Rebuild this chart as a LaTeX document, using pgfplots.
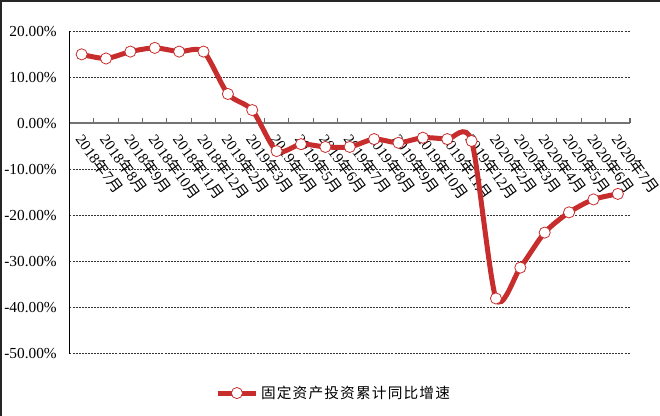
\documentclass[border=0pt]{standalone}
\usepackage{fontspec}
\setmainfont{Liberation Serif}
\newfontfamily\cjk{Noto Sans CJK SC}
\newfontfamily\cjkls[LetterSpace=8]{Noto Sans CJK SC}
\usepackage{pgfplots}
\pgfplotsset{compat=1.18}
\definecolor{lred}{RGB}{200,45,45}
\newcommand{\ym}[2]{#1{\cjk 年}#2{\cjk 月}}
\begin{document}
\begin{tikzpicture}
\useasboundingbox (0,0) rectangle (495pt,312pt);
\draw[line width=1.5pt, black!85] (0.75pt,0) -- (0.75pt,311.25pt) -- (495pt,311.25pt);
\begin{axis}[
  at={(52.1pt,46.7pt)}, anchor=south west,
  scale only axis, width=420.4pt, height=241.8pt,
  xmin=-0.5, xmax=22.5, ymin=-50, ymax=20,
  axis x line*=middle, axis y line*=left,
  x axis line style={draw=black!55, line width=1.5pt},
  y axis line style={draw=black, line width=0.8pt},
  xtick={0,...,22},
  xticklabels={\ym{2018}{7},\ym{2018}{8},\ym{2018}{9},\ym{2018}{10},\ym{2018}{11},\ym{2018}{12},
    \ym{2019}{2},\ym{2019}{3},\ym{2019}{4},\ym{2019}{5},\ym{2019}{6},\ym{2019}{7},\ym{2019}{8},\ym{2019}{9},\ym{2019}{10},\ym{2019}{11},\ym{2019}{12},
    \ym{2020}{2},\ym{2020}{3},\ym{2020}{4},\ym{2020}{5},\ym{2020}{6},\ym{2020}{7}},
  minor x tick num=1,
  major tick length=0pt, minor tick length=4pt,
  tick align=inside,
  minor x tick style={draw=black!60, line width=0.8pt},
  xticklabel style={xshift=3pt, yshift=-5pt, rotate=-54, anchor=north west, font=\fontsize{11.3}{13}\selectfont, inner sep=1pt},
  ytick={-50,-40,...,20},
  yticklabels={-50.00\%,-40.00\%,-30.00\%,-20.00\%,-10.00\%,0.00\%,10.00\%,20.00\%},
  yticklabel style={font=\fontsize{11.5}{13}\selectfont, xshift=-6pt},
  ymajorgrids,
  major grid style={draw=black!80, line width=0.6pt, dash pattern=on 1.5pt off 0.8pt},
  legend style={draw=none, fill=none, at={(0.472,-0.122)}, anchor=center,
    font=\fontsize{11}{13}\selectfont},
  legend image code/.code={\draw[#1, mark repeat=2, mark phase=2] plot coordinates {(0cm,0cm) (0.5cm,0cm) (1cm,0cm)};},
  clip=false,
]
\addplot[lred, line width=3.75pt, smooth, tension=0.45,
  mark=*, mark size=4.2pt, mark options={fill=white, draw=lred, line width=0.6pt}]
  coordinates {
  (0,15.0) (1,14.1) (2,15.6) (3,16.4) (4,15.6) (5,15.6) (6,6.4) (7,2.9)
  (8,-6.0) (9,-4.5) (10,-5.1) (11,-5.1) (12,-3.4) (13,-4.2) (14,-3.1) (15,-3.4) (16,-3.8)
  (17,-38.0) (18,-31.3) (19,-23.7) (20,-19.3) (21,-16.5) (22,-15.3)
  };
\addlegendentry{{\cjkls 固定资产投资累计同比增速}}
\draw[black!60, line width=0.8pt] (axis cs:22.5,0) -- ([yshift=4pt]axis cs:22.5,0);
\end{axis}
\end{tikzpicture}
\end{document}
